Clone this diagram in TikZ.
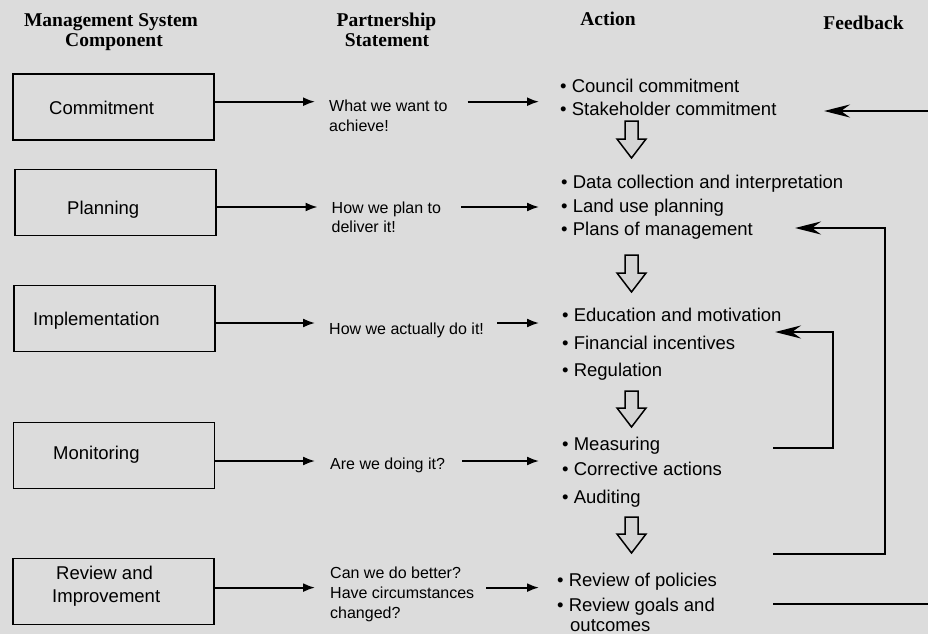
\documentclass[tikz,border=0pt]{standalone}
\usepackage{fontspec}
\setmainfont{Liberation Sans}
\newfontfamily\hdrfont{Liberation Serif}
\usetikzlibrary{arrows.meta}
\definecolor{bg}{RGB}{220,220,220}
\definecolor{hol}{RGB}{212,212,212}
\begin{document}
\begin{tikzpicture}[x=1pt,y=-1pt,
  hdr/.style={font=\hdrfont\bfseries\fontsize{19.5}{20}\selectfont, anchor=base, inner sep=0},
  cbox/.style={draw, line width=1.8pt, minimum width=201pt, minimum height=66pt, inner sep=0},
  btxt/.style={font=\fontsize{18.5}{22}\selectfont, anchor=base west, inner sep=0},
  stxt/.style={font=\fontsize{16}{20}\selectfont, anchor=base west, inner sep=0},
  atxt/.style={font=\fontsize{18.5}{22}\selectfont, anchor=base west, inner sep=0},
  rowarr/.style={-{Latex[length=12pt,width=9pt]}, line width=1.8pt},
  fbline/.style={line width=1.8pt},
  fbarr/.style={-{Stealth[length=26pt,width=13pt,inset=9pt]}, line width=1.8pt},
  hollow/.style={draw, line width=1.5pt, fill=hol, line join=miter}]
\useasboundingbox (0,0) rectangle (928,634);
\fill[bg] (0,0) rectangle (928,634);

% headers
\node[hdr] (h1a) at (111,26.7) {Management System};
\node[hdr] (h1b) at (114,46.7) {Component};
\node[hdr] (h2a) at (386.5,26.7) {Partnership};
\node[hdr] (h2b) at (387,46.7) {Statement};
\node[hdr] (h3) at (608,26) {Action};
\node[hdr] (h4) at (863.5,30) {Feedback};

% component boxes
\node[cbox] (b1) at (113.5,107) {};
\node[cbox] (b2) at (115.5,202.5) {};
\node[cbox] (b3) at (114.5,318.5) {};
\node[cbox] (b4) at (114,455.5) {};
\node[cbox] (b5) at (113.5,591.5) {};
\node[btxt] (t1) at (49,114) {Commitment};
\node[btxt] (t2) at (67,214.5) {Planning};
\node[btxt] (t3) at (33,325.5) {Implementation};
\node[btxt] (t4) at (53,459.5) {Monitoring};
\node[btxt] (t5a) at (56,579.5) {Review and};
\node[btxt] (t5b) at (52,602) {Improvement};

% partnership statements
\node[stxt] (s1) at (329,111.7) {What we want to};
\node[stxt] (s1b) at (329,131.7) {achieve!};
\node[stxt] (s2) at (331.5,213) {How we plan to};
\node[stxt] (s2b) at (331.5,232.5) {deliver it!};
\node[stxt] (s3) at (329,334) {How we actually do it!};
\node[stxt] (s4) at (330,469) {Are we doing it?};
\node[stxt] (s5) at (330,578.5) {Can we do better?};
\node[stxt] (s5b) at (330,598.5) {Have circumstances};
\node[stxt] (s5c) at (330,618) {changed?};

% actions
\node[atxt] (a1) at (560,92.3) {• Council commitment};
\node[atxt] (a2) at (560,115.5) {• Stakeholder commitment};
\node[atxt] (a3) at (561,188.5) {• Data collection and interpretation};
\node[atxt] (a4) at (561,212) {• Land use planning};
\node[atxt] (a5) at (561,235) {• Plans of management};
\node[atxt] (a6) at (562,321.7) {• Education and motivation};
\node[atxt] (a7) at (562,349.5) {• Financial incentives};
\node[atxt] (a8) at (562,376) {• Regulation};
\node[atxt] (a9) at (562,450) {• Measuring};
\node[atxt] (a10) at (562,475.5) {• Corrective actions};
\node[atxt] (a11) at (562,503) {• Auditing};
\node[atxt] (a12) at (557,586) {• Review of policies};
\node[atxt] (a13) at (557,611.7) {• Review goals and};
\node[atxt] (a13b) at (570,631.7) {outcomes};

% row arrow heights
\coordinate (r1) at (0,101.7);
\coordinate (r2) at (0,207);
\coordinate (r3) at (0,323);
\coordinate (r4) at (0,461);
\coordinate (r5) at (0,587.6);
\coordinate (e1) at (539,0);

% row arrows: component -> statement
\draw[rowarr] (b1.east |- r1) -- ([xshift=-14pt]s1.west |- r1);
\draw[rowarr] (b2.east |- r2) -- ([xshift=-14pt]s2.west |- r2);
\draw[rowarr] (b3.east |- r3) -- ([xshift=-14pt]s3.west |- r3);
\draw[rowarr] (b4.east |- r4) -- ([xshift=-15pt]s4.west |- r4);
\draw[rowarr] (b5.east |- r5) -- ([xshift=-15pt]s5.west |- r5);

% row arrows: statement -> action
\draw[rowarr] ([xshift=20pt]s1.east |- r1) -- (e1 |- r1);
\draw[rowarr] ([xshift=20pt]s2.east |- r2) -- (e1 |- r2);
\draw[rowarr] ([xshift=13pt]s3.east |- r3) -- (e1 |- r3);
\draw[rowarr] ([xshift=17pt]s4.east |- r4) -- (e1 |- r4);
\draw[rowarr] ([xshift=12pt]s5b.east |- r5) -- (e1 |- r5);

% hollow down arrows
\foreach \yt/\yh/\yb in {121/139/158, 255/273/292, 391/408/427, 517/534/553}{
  \draw[hollow] (625,\yt) -- (638,\yt) -- (638,\yh) -- (646,\yh) -- (631.5,\yb)
     -- (617,\yh) -- (625,\yh) -- cycle;
}

% feedback
\coordinate (fbTop) at (928,111);
\coordinate (fbTopTip) at (824,111);
\draw[fbarr] (fbTop) -- (fbTopTip);

\coordinate (fbBigS) at (773,554);
\coordinate (fbBigC1) at (885,554);
\coordinate (fbBigC2) at (885,228);
\coordinate (fbBigTip) at (795,228);
\draw[fbarr, line join=miter] (fbBigS) -- (fbBigC1) -- (fbBigC2) -- (fbBigTip);

\coordinate (fbInS) at (773,448);
\coordinate (fbInC1) at (833,448);
\coordinate (fbInC2) at (833,332);
\coordinate (fbInTip) at (775,332);
\draw[fbarr, line join=miter] (fbInS) -- (fbInC1) -- (fbInC2) -- (fbInTip);

\coordinate (fbBotS) at (773,604);
\coordinate (fbBotE) at (928,604);
\draw[fbline] (fbBotS) -- (fbBotE);
\end{tikzpicture}
\end{document}
